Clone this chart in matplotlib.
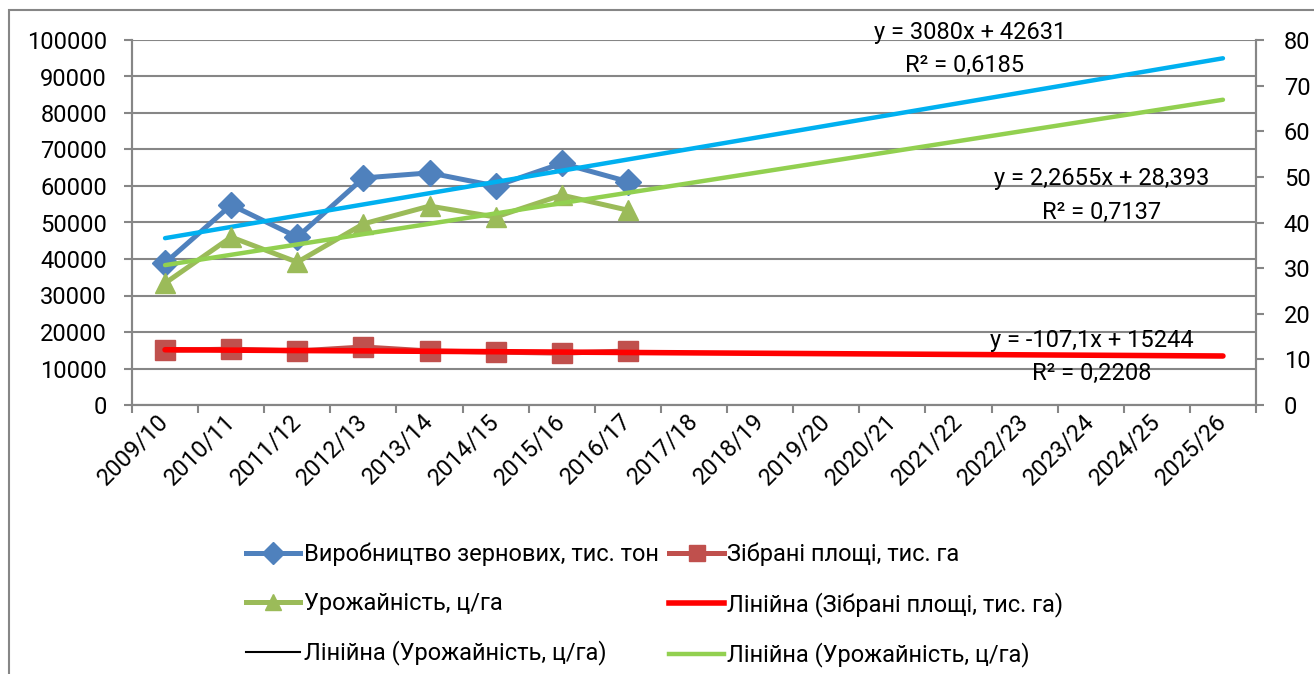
import matplotlib.pyplot as plt
from matplotlib.lines import Line2D
from matplotlib.patches import Rectangle
import numpy as np

plt.rcParams['font.family'] = ['Roboto', 'DejaVu Sans']

# категорії (маркетингові роки)
seasons = ['2009/10', '2010/11', '2011/12', '2012/13', '2013/14', '2014/15',
           '2015/16', '2016/17', '2017/18', '2018/19', '2019/20', '2020/21',
           '2021/22', '2022/23', '2023/24', '2024/25', '2025/26']

# фактичні дані (2009/10 - 2016/17)
production = [38900, 54800, 46000, 62200, 63600, 60000, 66200, 61200]   # тис. тон
area = [15000, 15300, 14800, 15900, 14800, 14500, 14200, 14800]         # тис. га
yield_c = [26.7, 36.8, 31.3, 39.7, 43.6, 41.2, 46.0, 42.7]              # ц/га

# коефіцієнти лінійних трендів (з підписів на графіку)
trend_prod = [3080, 42631]
trend_area = [-107.1, 15244]
trend_yield = [2.2655, 28.393]

grid_c = '#868686'
fs = 17
W, H = 1314, 674

fig = plt.figure(figsize=(W / 100, H / 100), dpi=100)
ax = fig.add_axes([132 / W, 1 - 405 / H, (1256 - 132) / W, (405 - 40) / H])
ax2 = ax.twinx()

x_all = np.arange(1, len(seasons) + 1)
x_data = x_all[:len(production)]

# серії
ax.plot(x_data, production, color='#4F81BD', lw=3.6, marker='D', ms=13, zorder=3)
ax.plot(x_data, area, color='#C0504D', lw=3.6, marker='s', ms=14, zorder=3)
ax.plot(x_all, np.polyval(trend_prod, x_all), color='#00B0F0', lw=3.2, zorder=4,
        solid_capstyle='round')
ax.plot(x_all, np.polyval(trend_area, x_all), color='#FF0000', lw=4, zorder=4,
        solid_capstyle='round')

ax2.plot(x_data, yield_c, color='#9BBB59', lw=3.6, marker='^', ms=15, zorder=3)
ax2.plot(x_all, np.polyval(trend_yield, x_all), color='#92D050', lw=3.2, zorder=4,
         solid_capstyle='round')

# осі
ax.set_xlim(0.5, len(seasons) + 0.5)
ax.set_ylim(0, 100000)
ax.set_yticks(np.arange(0, 100001, 10000))
ax2.set_ylim(0, 80)
ax2.set_yticks(np.arange(0, 81, 10))

ax.set_xticks(np.arange(0.5, len(seasons) + 1, 1))
ax.set_xticklabels([])
ax.set_xticks(x_all, minor=True)
ax.set_xticklabels(seasons, minor=True, rotation=45, ha='right', va='center',
                   rotation_mode='anchor', fontsize=fs)
ax.tick_params(axis='x', which='minor', length=0, pad=9)
ax.tick_params(axis='x', which='major', length=6, width=1.5, color=grid_c)
ax.tick_params(axis='y', length=6, width=1.5, color=grid_c, labelsize=fs, pad=12)
ax2.tick_params(axis='y', length=6, width=1.5, color=grid_c, labelsize=fs, pad=14)

ax.grid(axis='y', color=grid_c, lw=1.5)
ax.set_axisbelow(True)
for a in (ax, ax2):
    a.spines['top'].set_visible(False)
    for s in ('left', 'right', 'bottom'):
        a.spines[s].set_color(grid_c)
        a.spines[s].set_linewidth(1.5)


# рівняння трендів (координати в пікселях рисунка)
def fig_text(px, py, s):
    fig.text(px / W, 1 - py / H, s, fontsize=fs, ha='center', va='center')


fig_text(970, 32, 'y = 3080x + 42631')
fig_text(965, 65, 'R² = 0,6185')
fig_text(1102, 179, 'y = 2,2655x + 28,393')
fig_text(1102, 212, 'R² = 0,7137')
fig_text(1092, 341, 'y = -107,1x + 15244')
fig_text(1092, 373, 'R² = 0,2208')

# легенда
handles = [
    Line2D([], [], color='#4F81BD', lw=3.6, marker='D', ms=11),
    Line2D([], [], color='#9BBB59', lw=3.6, marker='^', ms=12),
    Line2D([], [], color='black', lw=1.5),
    Line2D([], [], color='#C0504D', lw=3.6, marker='s', ms=12),
    Line2D([], [], color='#FF0000', lw=4),
    Line2D([], [], color='#92D050', lw=3.2),
]
labels = [
    'Виробництво зернових, тис. тон',
    'Урожайність, ц/га',
    'Лінійна (Урожайність, ц/га)',
    'Зібрані площі, тис. га',
    'Лінійна (Зібрані площі, тис. га)',
    'Лінійна (Урожайність, ц/га)',
]
fig.legend(handles, labels, ncol=2, frameon=False, fontsize=fs,
           loc='upper left', bbox_to_anchor=(246 / W, 1 - 543 / H),
           handlelength=2.3, handletextpad=0.15, columnspacing=0.45,
           labelspacing=1.08, borderaxespad=0, borderpad=0)

# рамка області діаграми
fig.patches.append(Rectangle((9 / W, -0.2), 1.5, 1.2 - 10 / H, transform=fig.transFigure,
                             fill=False, edgecolor=grid_c, lw=1.5))

fig.savefig('out.png', dpi=100)
